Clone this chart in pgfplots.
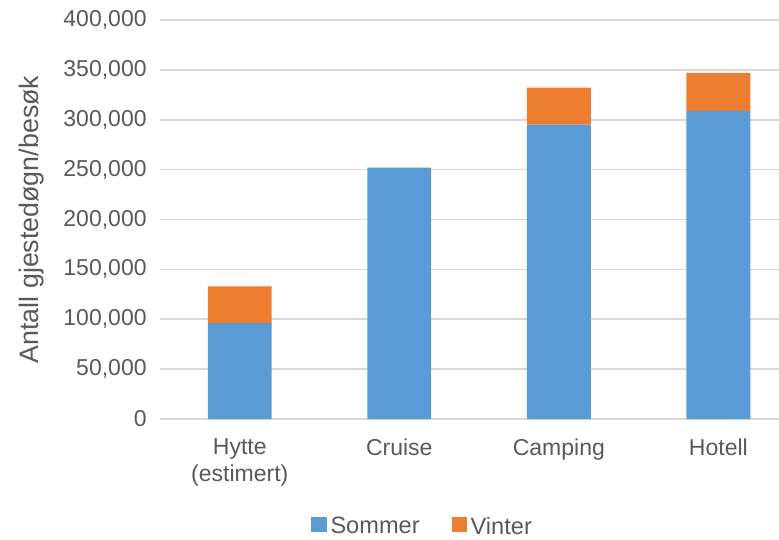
\documentclass[border=0pt]{standalone}
\usepackage{pgfplots}
\pgfplotsset{compat=1.18}
\usepackage{fontspec}
\setmainfont{Liberation Sans}
\definecolor{sblue}{RGB}{91,155,213}
\definecolor{sorange}{RGB}{237,125,49}
\definecolor{gridc}{RGB}{217,217,217}
\definecolor{txt}{RGB}{89,89,89}
\begin{document}
\begin{tikzpicture}
\useasboundingbox (-80pt,-60pt) rectangle (309.5pt,209.5pt);
\begin{axis}[
  at={(0,0)}, anchor=south west, scale only axis,
  width=309.5pt, height=199.5pt,
  ybar stacked, bar width=0.4,
  xmin=-0.5, xmax=3.38, ymin=0, ymax=400000,
  xtick={0,1,2,3},
  xticklabels={{Hytte\\(estimert)},Cruise,Camping,Hotell},
  ytick={0,50000,...,400000},
  scaled y ticks=false,
  yticklabel style={/pgf/number format/fixed, /pgf/number format/1000 sep={,}, /pgf/number format/assume math mode=true},
  axis line style={draw=none},
  major tick length=0pt,
  ymajorgrids, grid style={gridc, line width=0.8pt},
  tick label style={font=\fontsize{11.5}{12}\selectfont, text=txt},
  xticklabel style={align=center, inner sep=0pt, anchor=north, yshift=-9.5pt, font=\fontsize{11.5}{13.5}\selectfont},
  yticklabel style={inner sep=0pt, anchor=east, xshift=-6.5pt},
  ylabel={Antall gjestedøgn/besøk},
  ylabel style={at={(axis description cs:-0.207,0.5)}, anchor=center, font=\fontsize{13.4}{14}\selectfont, text=txt},
  legend style={at={(axis description cs:0.426,-0.2707)}, anchor=center, draw=none, fill=none,
    legend columns=2, font=\fontsize{11.8}{12}\selectfont, text=txt,
    /tikz/every even column/.append style={column sep=14pt}},
  legend image code/.code={\fill[#1] (0pt,-2.25pt) rectangle (7.5pt,5.25pt);},
]
\addplot[fill=sblue, draw=none] coordinates {(0,96000) (1,252000) (2,295000) (3,309000)};
\addplot[fill=sorange, draw=none] coordinates {(0,37000) (1,0) (2,37300) (3,38000)};
\legend{Sommer,Vinter}
\end{axis}
\end{tikzpicture}
\end{document}
